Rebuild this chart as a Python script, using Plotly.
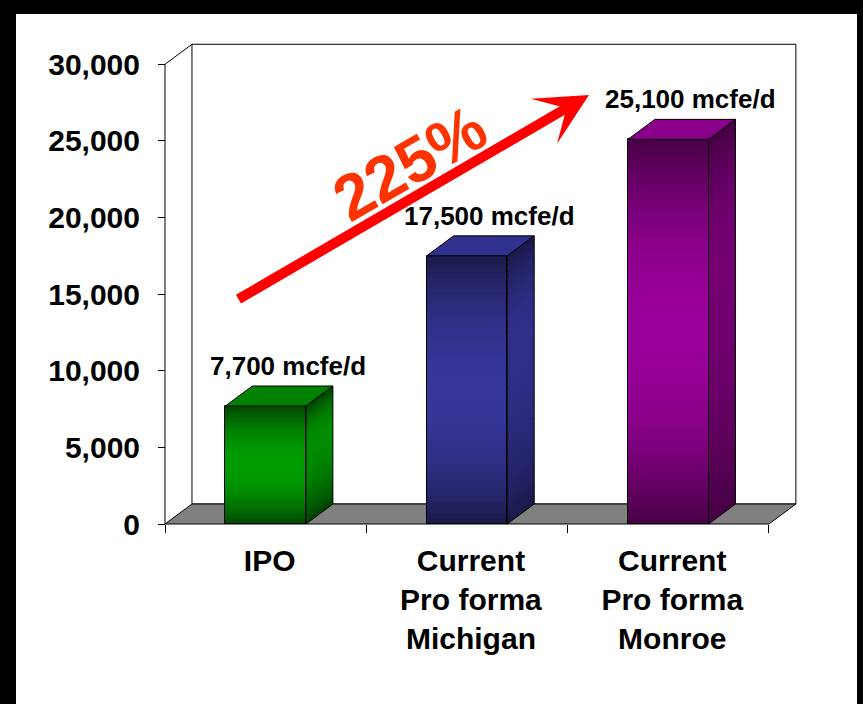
import plotly.graph_objects as go

# ---- data -------------------------------------------------------------
categories = ["IPO", "Current<br>Pro forma<br>Michigan", "Current<br>Pro forma<br>Monroe"]
production = [7700, 17500, 25100]          # mcfe/d
y_ticks = [0, 5000, 10000, 15000, 20000, 25000, 30000]
value_unit = "mcfe/d"
growth_label = "225%"

# ---- styling ----------------------------------------------------------
FONT = "Liberation Sans, Arial, sans-serif"
# (dark, bright) RGB pairs used for the shaded faces of each column
front_shades = [((0x00, 0x46, 0x00), (0x00, 0x9c, 0x00)),
                ((0x1b, 0x1b, 0x4c), (0x36, 0x36, 0x9a)),
                ((0x46, 0x00, 0x44), (0x9a, 0x00, 0x9a))]
side_shades = [((0x00, 0x42, 0x00), (0x00, 0x8c, 0x00)),
               ((0x1a, 0x1a, 0x4a), (0x2f, 0x2f, 0x8a)),
               ((0x46, 0x00, 0x44), (0x74, 0x00, 0x72))]
top_colors = ["#008200", "#30308e", "#8a008a"]

W, H = 863, 704
BAR_W = 0.4            # column width (category units)
DX = 0.134             # 3-D depth, horizontal (category units)
DY = 1305              # 3-D depth, vertical (value units)
N_BANDS = 48           # shading bands per face

# pixel layout of the front axes
PX_PER_CAT = 201.3
PX_PER_VAL = 76.62 / 5000
AX_LEFT_PX, AX_ZERO_PX = 165, 524
ML, MR, MT, MB = 155, 57, 34, 169
PW, PH = W - ML - MR, H - MT - MB

x_lo = -0.5 - (AX_LEFT_PX - ML) / PX_PER_CAT
x_range = [x_lo, x_lo + PW / PX_PER_CAT]
y_lo = -((H - MB) - AX_ZERO_PX) / PX_PER_VAL
y_range = [y_lo, y_lo + PH / PX_PER_VAL]


def px_paper(px, py):
    return (px - ML) / PW, ((H - MB) - py) / PH


def mix(dark, bright, w):
    return "rgb({},{},{})".format(*[round(d + (b - d) * w) for d, b in zip(dark, bright)])


def bump(t, peak):
    """0 at the ends of the face, 1 at `peak` (t measured from the top)."""
    span = peak if t < peak else 1 - peak
    return max(0.0, 1 - ((t - peak) / span) ** 2)


fig = go.Figure()
shapes = []

# back wall and floor
shapes.append(dict(type="rect", xref="x", yref="y", x0=-0.5 + DX, x1=2.5 + DX,
                   y0=DY, y1=y_ticks[-1] + DY, fillcolor="white",
                   line=dict(color="black", width=1), layer="below"))
shapes.append(dict(type="path", xref="x", yref="y",
                   path=f"M -0.5,0 L 2.5,0 L {2.5 + DX},{DY} L {-0.5 + DX},{DY} Z",
                   fillcolor="#808080", line=dict(color="black", width=1), layer="below"))
# left wall edges
shapes.append(dict(type="line", xref="x", yref="y", x0=-0.5, x1=-0.5, y0=0, y1=y_ticks[-1],
                   line=dict(color="black", width=1), layer="below"))
shapes.append(dict(type="line", xref="x", yref="y", x0=-0.5, x1=-0.5 + DX,
                   y0=y_ticks[-1], y1=y_ticks[-1] + DY,
                   line=dict(color="black", width=1), layer="below"))

for i, v in enumerate(production):
    xl, xr = i - BAR_W / 2, i + BAR_W / 2
    step = v / N_BANDS

    # front face: stacked shading bands
    bases = [k * step for k in range(N_BANDS)]
    colors = [mix(*front_shades[i], bump(1 - (k + 0.5) / N_BANDS, 0.5)) for k in range(N_BANDS)]
    fig.add_trace(go.Bar(x=[i] * N_BANDS, y=[step * 1.02] * N_BANDS, base=bases, width=BAR_W,
                         marker=dict(color=colors, line=dict(width=0)),
                         hoverinfo="skip", showlegend=False))
    # front face outline
    fig.add_trace(go.Bar(x=[i], y=[v], width=BAR_W,
                         marker=dict(color="rgba(0,0,0,0)", line=dict(color="black", width=1)),
                         hovertemplate=f"{categories[i].replace('<br>', ' ')}: %{{y:,}} {value_unit}<extra></extra>",
                         showlegend=False))

    # side face bands
    for k in range(N_BANDS):
        y0 = k * step
        y1 = min(v, (k + 1) * step + step * 0.6)
        c = mix(*side_shades[i], bump(1 - (k + 0.5) / N_BANDS, 0.35))
        shapes.append(dict(type="path", xref="x", yref="y",
                           path=f"M {xr},{y0} L {xr + DX},{y0 + DY} L {xr + DX},{y1 + DY} L {xr},{y1} Z",
                           fillcolor=c, line=dict(width=0), layer="below"))
    # side and top outlines
    shapes.append(dict(type="path", xref="x", yref="y",
                       path=f"M {xr},0 L {xr + DX},{DY} L {xr + DX},{v + DY} L {xr},{v} Z",
                       fillcolor="rgba(0,0,0,0)", line=dict(color="black", width=1), layer="above"))
    shapes.append(dict(type="path", xref="x", yref="y",
                       path=f"M {xl},{v} L {xr},{v} L {xr + DX},{v + DY} L {xl + DX},{v + DY} Z",
                       fillcolor=top_colors[i], line=dict(color="black", width=1), layer="above"))

# black frame strips
for (ax0, ay0, ax1, ay1) in [(0, 0, 16, H), (0, 0, W, 14), (857, 0, W, H)]:
    p0x, p0y = px_paper(ax0, ay0)
    p1x, p1y = px_paper(ax1, ay1)
    shapes.append(dict(type="rect", xref="paper", yref="paper", x0=p0x, x1=p1x, y0=p0y, y1=p1y,
                       fillcolor="black", line=dict(width=0), layer="above"))

annotations = []
# value labels above each column
for i, v in enumerate(production):
    annotations.append(dict(x=i + 0.11, y=v + DY, xref="x", yref="y",
                            xanchor="center", yanchor="bottom",
                            text=f"{v:,} {value_unit}", showarrow=False, yshift=3,
                            font=dict(family=FONT, size=26, color="black", weight="bold")))

# growth arrow and label
tip_x, tip_y = px_paper(589, 95)
annotations.append(dict(x=tip_x, y=tip_y, xref="paper", yref="paper", text="",
                        showarrow=True, ax=237 - 589, ay=300 - 95, axref="pixel", ayref="pixel",
                        arrowhead=3, arrowsize=0.87, arrowwidth=10, arrowcolor="#ff0000", standoff=0))
gx, gy = px_paper(410, 163)
annotations.append(dict(x=gx, y=gy, xref="paper", yref="paper", text=growth_label,
                        xanchor="center", yanchor="middle",
                        showarrow=False, textangle=-30,
                        font=dict(family=FONT, size=64, color="#ff3300", weight="bold")))

fig.update_layout(
    width=W, height=H,
    margin=dict(l=ML, r=MR, t=MT, b=MB, autoexpand=False),
    paper_bgcolor="white", plot_bgcolor="rgba(0,0,0,0)",
    barmode="overlay", bargap=0, showlegend=False,
    shapes=shapes, annotations=annotations,
    xaxis=dict(range=x_range, anchor="free",
               position=((H - MB) - AX_ZERO_PX) / PH,
               tickvals=[0, 1, 2], ticktext=categories, ticks="",
               tickfont=dict(family=FONT, size=30, color="black", weight="bold"),
               ticklabelshift=4, ticklabelstandoff=16,
               minor=dict(tick0=-0.5, dtick=1, ticks="outside", ticklen=8, tickcolor="black", tickwidth=1),
               showgrid=False, zeroline=False, showline=False, automargin=False, fixedrange=True),
    yaxis=dict(range=y_range, anchor="free",
               position=(AX_LEFT_PX - ML) / PW,
               tickvals=y_ticks, tickformat=",", ticks="outside", ticklen=7,
               tickcolor="black", tickwidth=1,
               tickfont=dict(family=FONT, size=30, color="black", weight="bold"),
               ticklabelstandoff=12,
               showgrid=False, zeroline=False, showline=False, automargin=False, fixedrange=True),
)

fig.write_html("out.html")
